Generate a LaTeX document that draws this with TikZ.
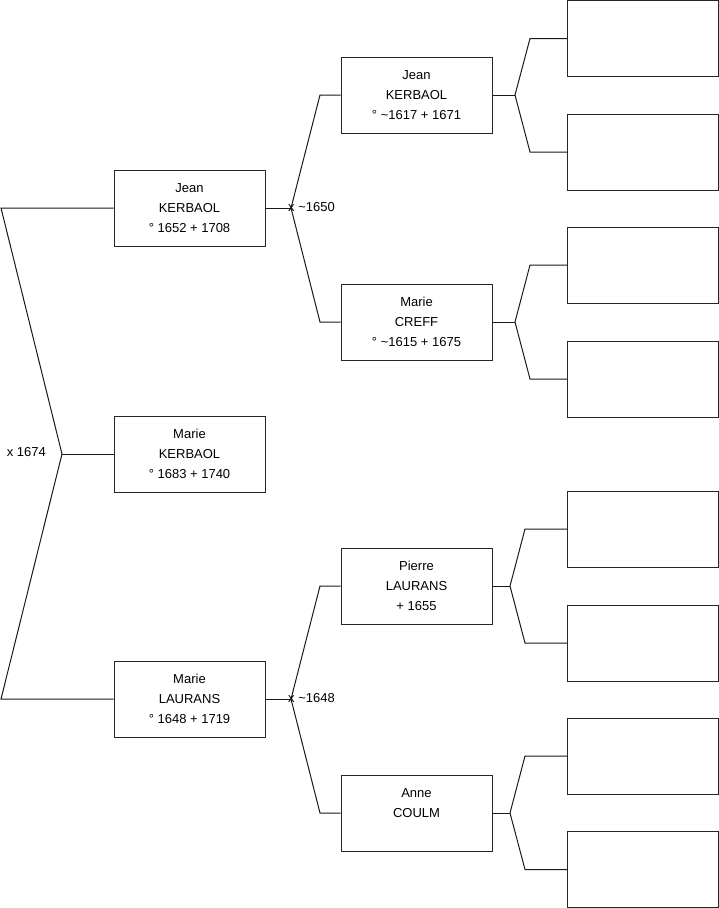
\documentclass[tikz,border=0pt]{standalone}
\usepackage{fontspec}
\setmainfont{Liberation Sans}
\begin{document}
\begin{tikzpicture}[x=1pt,y=-1pt,
  person/.style={draw=black!85, line width=1pt, minimum width=151pt, minimum height=76pt,
    inner sep=0pt, align=center, font=\fontsize{13}{20}\selectfont},
  link/.style={draw=black!90, line width=1pt},
  marr/.style={font=\fontsize{13}{15}\selectfont, inner sep=0pt}]
\useasboundingbox (0,0) rectangle (719,908);
% generation 1
\node[person] (g1a) at (189.5,208) {Jean\\KERBAOL\\° 1652 + 1708};
\node[person] (g1b) at (189.5,454) {Marie\\KERBAOL\\° 1683 + 1740};
\node[person] (g1c) at (189.5,699) {Marie\\LAURANS\\° 1648 + 1719};
% generation 2
\node[person] (g2a) at (416.5,95) {Jean\\KERBAOL\\° \textasciitilde1617 + 1671};
\node[person] (g2b) at (416.5,322) {Marie\\CREFF\\° \textasciitilde1615 + 1675};
\node[person] (g2c) at (416.5,586) {Pierre\\LAURANS\\+ 1655};
\node[person] (g2d) at (416.5,813) {Anne\\COULM\\\mbox{}};
% generation 3
\node[person] (g3a) at (643,38.5) {};
\node[person] (g3b) at (643,152) {};
\node[person] (g3c) at (643,265) {};
\node[person] (g3d) at (643,379) {};
\node[person] (g3e) at (643,529) {};
\node[person] (g3f) at (643,643) {};
\node[person] (g3g) at (643,756) {};
\node[person] (g3h) at (643,869.5) {};
% junctions
\coordinate (j0) at (62,454);
\coordinate (l0a) at (1,208);
\coordinate (l0c) at (1,699);
\coordinate (j1) at (291,208);
\coordinate (j2) at (291,699);
\coordinate (ja) at (515,95);
\coordinate (jb) at (515,322);
\coordinate (jc) at (510,586);
\coordinate (jd) at (510,813);
% connectors
\draw[link] (g1a.west) -- (l0a) -- (j0) -- (l0c) -- (g1c.west);
\draw[link] (j0) -- (g1b.west);
\draw[link] (g1a.east) -- (j1);
\draw[link] (g2a.west) -- (320,95) -- (j1) -- (320,322) -- (g2b.west);
\draw[link] (g1c.east) -- (j2);
\draw[link] (g2c.west) -- (320,586) -- (j2) -- (320,813) -- (g2d.west);
\draw[link] (g2a.east) -- (ja);
\draw[link] (g3a.west) -- (530,38.5) -- (ja) -- (530,152) -- (g3b.west);
\draw[link] (g2b.east) -- (jb);
\draw[link] (g3c.west) -- (530,265) -- (jb) -- (530,379) -- (g3d.west);
\draw[link] (g2c.east) -- (jc);
\draw[link] (g3e.west) -- (525,529) -- (jc) -- (525,643) -- (g3f.west);
\draw[link] (g2d.east) -- (jd);
\draw[link] (g3g.west) -- (525,756) -- (jd) -- (525,869.5) -- (g3h.west);
% marriage labels
\node[marr, anchor=east] (m0) at (46,452) {x 1674};
\node[marr, anchor=west] (m1) at (288,207) {x \textasciitilde1650};
\node[marr, anchor=west] (m2) at (288,698) {x \textasciitilde1648};
\end{tikzpicture}
\end{document}
